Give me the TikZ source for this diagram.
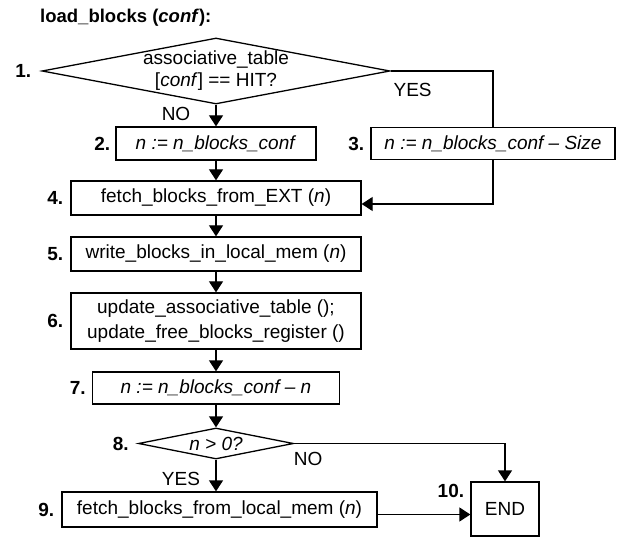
\documentclass[tikz,border=0pt]{standalone}
\usepackage{fontspec}
\setmainfont{Liberation Sans}
\usetikzlibrary{shapes.geometric,arrows.meta}

\newcommand{\fs}{\fontsize{19}{22}\selectfont}

\tikzstyle{box}=[draw, line width=1.3pt, inner sep=0pt, font=\fs, align=center]
\tikzstyle{decision}=[draw, diamond, line width=1.3pt, inner sep=0pt]
\tikzstyle{num}=[font=\fs\bfseries, inner sep=0pt]
\tikzstyle{txt}=[font=\fs, inner sep=0pt, align=center]
\tikzstyle{flow}=[line width=1.3pt, -{Triangle[length=11pt,width=14pt]}]

\begin{document}
\begin{tikzpicture}[x=1pt,y=1pt]
  \useasboundingbox (0,0) rectangle (629,-537);

  \node[num, font=\fontsize{18.5}{22}\selectfont\bfseries, anchor=base west] (title) at (40,-23) {load\_blocks (\textit{conf}):};

  % decisions
  \node[decision, minimum width=348pt, minimum height=66pt,
        label={[num, label distance=10pt]left:1.},
        label={[txt]center:{associative\_table\\{}[\textit{conf}] == HIT?}}] (d1) at (216,-71) {};
  \node[decision, minimum width=155pt, minimum height=31pt,
        label={[num, label distance=9pt]left:8.},
        label={[txt]center:{\textit{n > 0?}}}] (d8) at (216,-443.5) {};

  % boxes
  \node[box, minimum width=200pt, minimum height=33pt,
        label={[num, label distance=5pt]left:2.}] (b2) at (216,-143.5) {\textit{n := n\_blocks\_conf}};
  \node[box, minimum width=244pt, minimum height=32pt,
        label={[num, label distance=6pt]left:3.}] (b3) at (493,-143.5) {\textit{n := n\_blocks\_conf \textendash{} Size}};
  \node[box, minimum width=290pt, minimum height=34pt,
        label={[num, label distance=7pt]left:4.}] (b4) at (216,-198) {fetch\_blocks\_from\_EXT (\textit{n})};
  \node[box, minimum width=290pt, minimum height=34pt,
        label={[num, label distance=7pt]left:5.}] (b5) at (216,-254) {write\_blocks\_in\_local\_mem (\textit{n})};
  \node[box, minimum width=290pt, minimum height=56pt, font=\fontsize{19}{25}\selectfont,
        label={[num, label distance=7pt]left:6.}] (b6) at (216,-321) {update\_associative\_table ();\\update\_free\_blocks\_register ()};
  \node[box, minimum width=247pt, minimum height=32pt,
        label={[num, label distance=6pt]left:7.}] (b7) at (216,-388) {\textit{n := n\_blocks\_conf \textendash{} n}};
  \node[box, minimum width=315pt, minimum height=35pt,
        label={[num, label distance=7pt]left:9.}] (b9) at (219.5,-509.5) {fetch\_blocks\_from\_local\_mem (\textit{n})};
  \node[box, minimum width=68pt, minimum height=54pt,
        label={[num, anchor=east, xshift=-6pt, yshift=-10pt]north west:10.}] (end) at (505,-509) {END};

  % branch labels
  \node[txt] (no1) at ([xshift=-40pt,yshift=-9pt]d1.south) {NO};
  \node[txt] (yes1) at ([xshift=22pt,yshift=-19pt]d1.east) {YES};
  \node[txt] (no8) at ([xshift=14pt,yshift=-15pt]d8.east) {NO};
  \node[txt] (yes8) at ([xshift=-35pt,yshift=-19pt]d8.south) {YES};

  % connectors
  \draw[flow] (d1.south) -- (b2.north);
  \draw[line width=1.3pt] (d1.east) -| (b3.north);
  \draw[flow] (b2.south) -- (b4.north);
  \draw[flow] (b3.south) |- ([yshift=-6pt]b4.east);
  \draw[flow] (b4.south) -- (b5.north);
  \draw[flow] (b5.south) -- (b6.north);
  \draw[flow] (b6.south) -- (b7.north);
  \draw[flow] (b7.south) -- (d8.north);
  \draw[flow] (d8.south) -- (d8.south |- b9.north);
  \draw[flow] (d8.east) -| (end.north);
  \draw[flow] ([yshift=-5pt]b9.east) -- ([yshift=-5pt]b9.east -| end.west);
\end{tikzpicture}
\end{document}
